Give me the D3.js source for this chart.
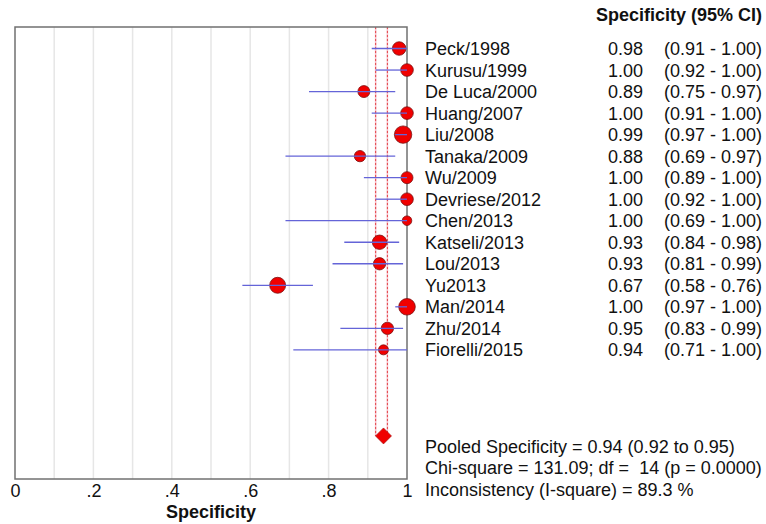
<!DOCTYPE html>
<html>
<head>
<meta charset="utf-8">
<script src="https://cdn.jsdelivr.net/npm/d3@7"></script>
<style>
  body { margin: 0; background: #fff; }
  svg text { font-family: "Liberation Sans", Arial, sans-serif; fill: #111; white-space: pre; }
</style>
</head>
<body>
<svg id="chart" width="766" height="524"></svg>
<script>
// study data
var studies = ["Peck/1998", "Kurusu/1999", "De Luca/2000", "Huang/2007", "Liu/2008",
  "Tanaka/2009", "Wu/2009", "Devriese/2012", "Chen/2013", "Katseli/2013",
  "Lou/2013", "Yu2013", "Man/2014", "Zhu/2014", "Fiorelli/2015"];
var spec  = [0.98, 1.00, 0.89, 1.00, 0.99, 0.88, 1.00, 1.00, 1.00, 0.93, 0.93, 0.67, 1.00, 0.95, 0.94];
var lower = [0.91, 0.92, 0.75, 0.91, 0.97, 0.69, 0.89, 0.92, 0.69, 0.84, 0.81, 0.58, 0.97, 0.83, 0.71];
var upper = [1.00, 1.00, 0.97, 1.00, 1.00, 0.97, 1.00, 1.00, 1.00, 0.98, 0.99, 0.76, 1.00, 0.99, 1.00];
// relative study weights (marker area)
var weights = [46, 40, 36, 40, 76, 32, 36, 40, 23, 52, 38, 64, 69, 38, 25];

// pooled estimate
var pooled = { est: 0.94, lo: 0.92, hi: 0.95 };
var footer = ["Pooled Specificity = 0.94 (0.92 to 0.95)",
  "Chi-square = 131.09; df =  14 (p = 0.0000)",
  "Inconsistency (I-square) = 89.3 %"];
var tickValues = [0, 0.2, 0.4, 0.6, 0.8, 1];
var tickLabels = ["0", ".2", ".4", ".6", ".8", "1"];

//-----------------------------------------------------------------------

var svg = d3.select("#chart");
var plotL = 15, plotR = 407, plotT = 27, plotB = 479;

var x = d3.scaleLinear().domain([0, 1]).range([plotL, plotR]);
// row index -> y ; pooled diamond sits on row 18
var y = d3.scaleLinear().domain([-1, 20]).range([plotT, plotB]);
var r = d3.scaleSqrt().domain([0, d3.max(weights)]).range([0, 8.7]);

var rows = studies.map(function (s, i) {
  return { name: s, est: spec[i], lo: lower[i], hi: upper[i], w: weights[i], i: i };
});

// grid lines
svg.append("g").selectAll("line")
  .data(d3.range(1, 10).map(function (d) { return d / 10; }))
  .enter().append("line")
  .attr("x1", function (d) { return x(d); })
  .attr("x2", function (d) { return x(d); })
  .attr("y1", plotT).attr("y2", plotB)
  .attr("stroke", "#e6e6e6").attr("stroke-width", 1.5);

// pooled CI dashed lines
var ciLines = svg.append("g").selectAll("g")
  .data([pooled.lo, pooled.hi])
  .enter().append("g");
ciLines.append("line")
  .attr("x1", function (d) { return x(d); })
  .attr("x2", function (d) { return x(d); })
  .attr("y1", plotT).attr("y2", y(18))
  .attr("stroke", "#f4b8c4").attr("stroke-width", 1.5);
ciLines.append("line")
  .attr("x1", function (d) { return x(d); })
  .attr("x2", function (d) { return x(d); })
  .attr("y1", plotT).attr("y2", y(18))
  .attr("stroke", "#e02828").attr("stroke-width", 0.8)
  .attr("stroke-dasharray", "2,2");

// frame
svg.append("rect")
  .attr("x", plotL).attr("y", plotT)
  .attr("width", plotR - plotL).attr("height", plotB - plotT)
  .attr("fill", "none").attr("stroke", "#707070").attr("stroke-width", 1.5);

// study markers
svg.append("g").selectAll("circle")
  .data(rows)
  .enter().append("circle")
  .attr("cx", function (d) { return x(d.est); })
  .attr("cy", function (d) { return y(d.i); })
  .attr("r", function (d) { return r(d.w); })
  .attr("fill", "#f00000").attr("stroke", "#7a1010").attr("stroke-width", 0.8);

// confidence intervals
svg.append("g").selectAll("line")
  .data(rows)
  .enter().append("line")
  .attr("x1", function (d) { return x(d.lo); })
  .attr("x2", function (d) { return x(d.hi); })
  .attr("y1", function (d) { return y(d.i); })
  .attr("y2", function (d) { return y(d.i); })
  .attr("stroke", "#6464d8").attr("stroke-width", 1.3);

// pooled diamond
svg.append("path")
  .attr("d", d3.symbol().type(d3.symbolSquare).size(128)())
  .attr("transform", "translate(" + x(pooled.est) + "," + y(18) + ") rotate(45)")
  .attr("fill", "#f00000").attr("stroke", "#a01010").attr("stroke-width", 0.6);

// x axis labels
var axis = d3.axisBottom(x).tickValues(tickValues).tickSize(0)
  .tickFormat(function (d, i) { return tickLabels[i]; });
var ax = svg.append("g").attr("transform", "translate(0," + (plotB + 2) + ")").call(axis);
ax.select(".domain").remove();
ax.selectAll("text").attr("font-size", 18).attr("fill", "#111")
  .style("font-family", "'Liberation Sans', Arial, sans-serif");

svg.append("text")
  .attr("x", (plotL + plotR) / 2).attr("y", 518)
  .attr("text-anchor", "middle").attr("font-size", 18).attr("font-weight", "bold")
  .text("Specificity");

// right hand table
svg.append("text")
  .attr("x", 762).attr("y", 21)
  .attr("text-anchor", "end").attr("font-size", 18).attr("font-weight", "bold")
  .text("Specificity (95% CI)");

var tbl = svg.append("g").attr("font-size", 18);
tbl.selectAll("text.name").data(rows).enter().append("text")
  .attr("class", "name")
  .attr("x", 425).attr("y", function (d) { return y(d.i); }).attr("dy", "0.36em")
  .text(function (d) { return d.name; });
tbl.selectAll("text.val").data(rows).enter().append("text")
  .attr("class", "val")
  .attr("x", 643).attr("y", function (d) { return y(d.i); }).attr("dy", "0.36em")
  .attr("text-anchor", "end")
  .text(function (d) { return d.est.toFixed(2); });
tbl.selectAll("text.ci").data(rows).enter().append("text")
  .attr("class", "ci")
  .attr("x", 762).attr("y", function (d) { return y(d.i); }).attr("dy", "0.36em")
  .attr("text-anchor", "end")
  .text(function (d) { return "(" + d.lo.toFixed(2) + " - " + d.hi.toFixed(2) + ")"; });

// summary statistics
svg.append("g").attr("font-size", 18).selectAll("text")
  .data(footer).enter().append("text")
  .attr("x", 425).attr("y", function (d, i) { return 446.5 + i * 21.3; }).attr("dy", "0.36em")
  .text(function (d) { return d; });
</script>
</body>
</html>
